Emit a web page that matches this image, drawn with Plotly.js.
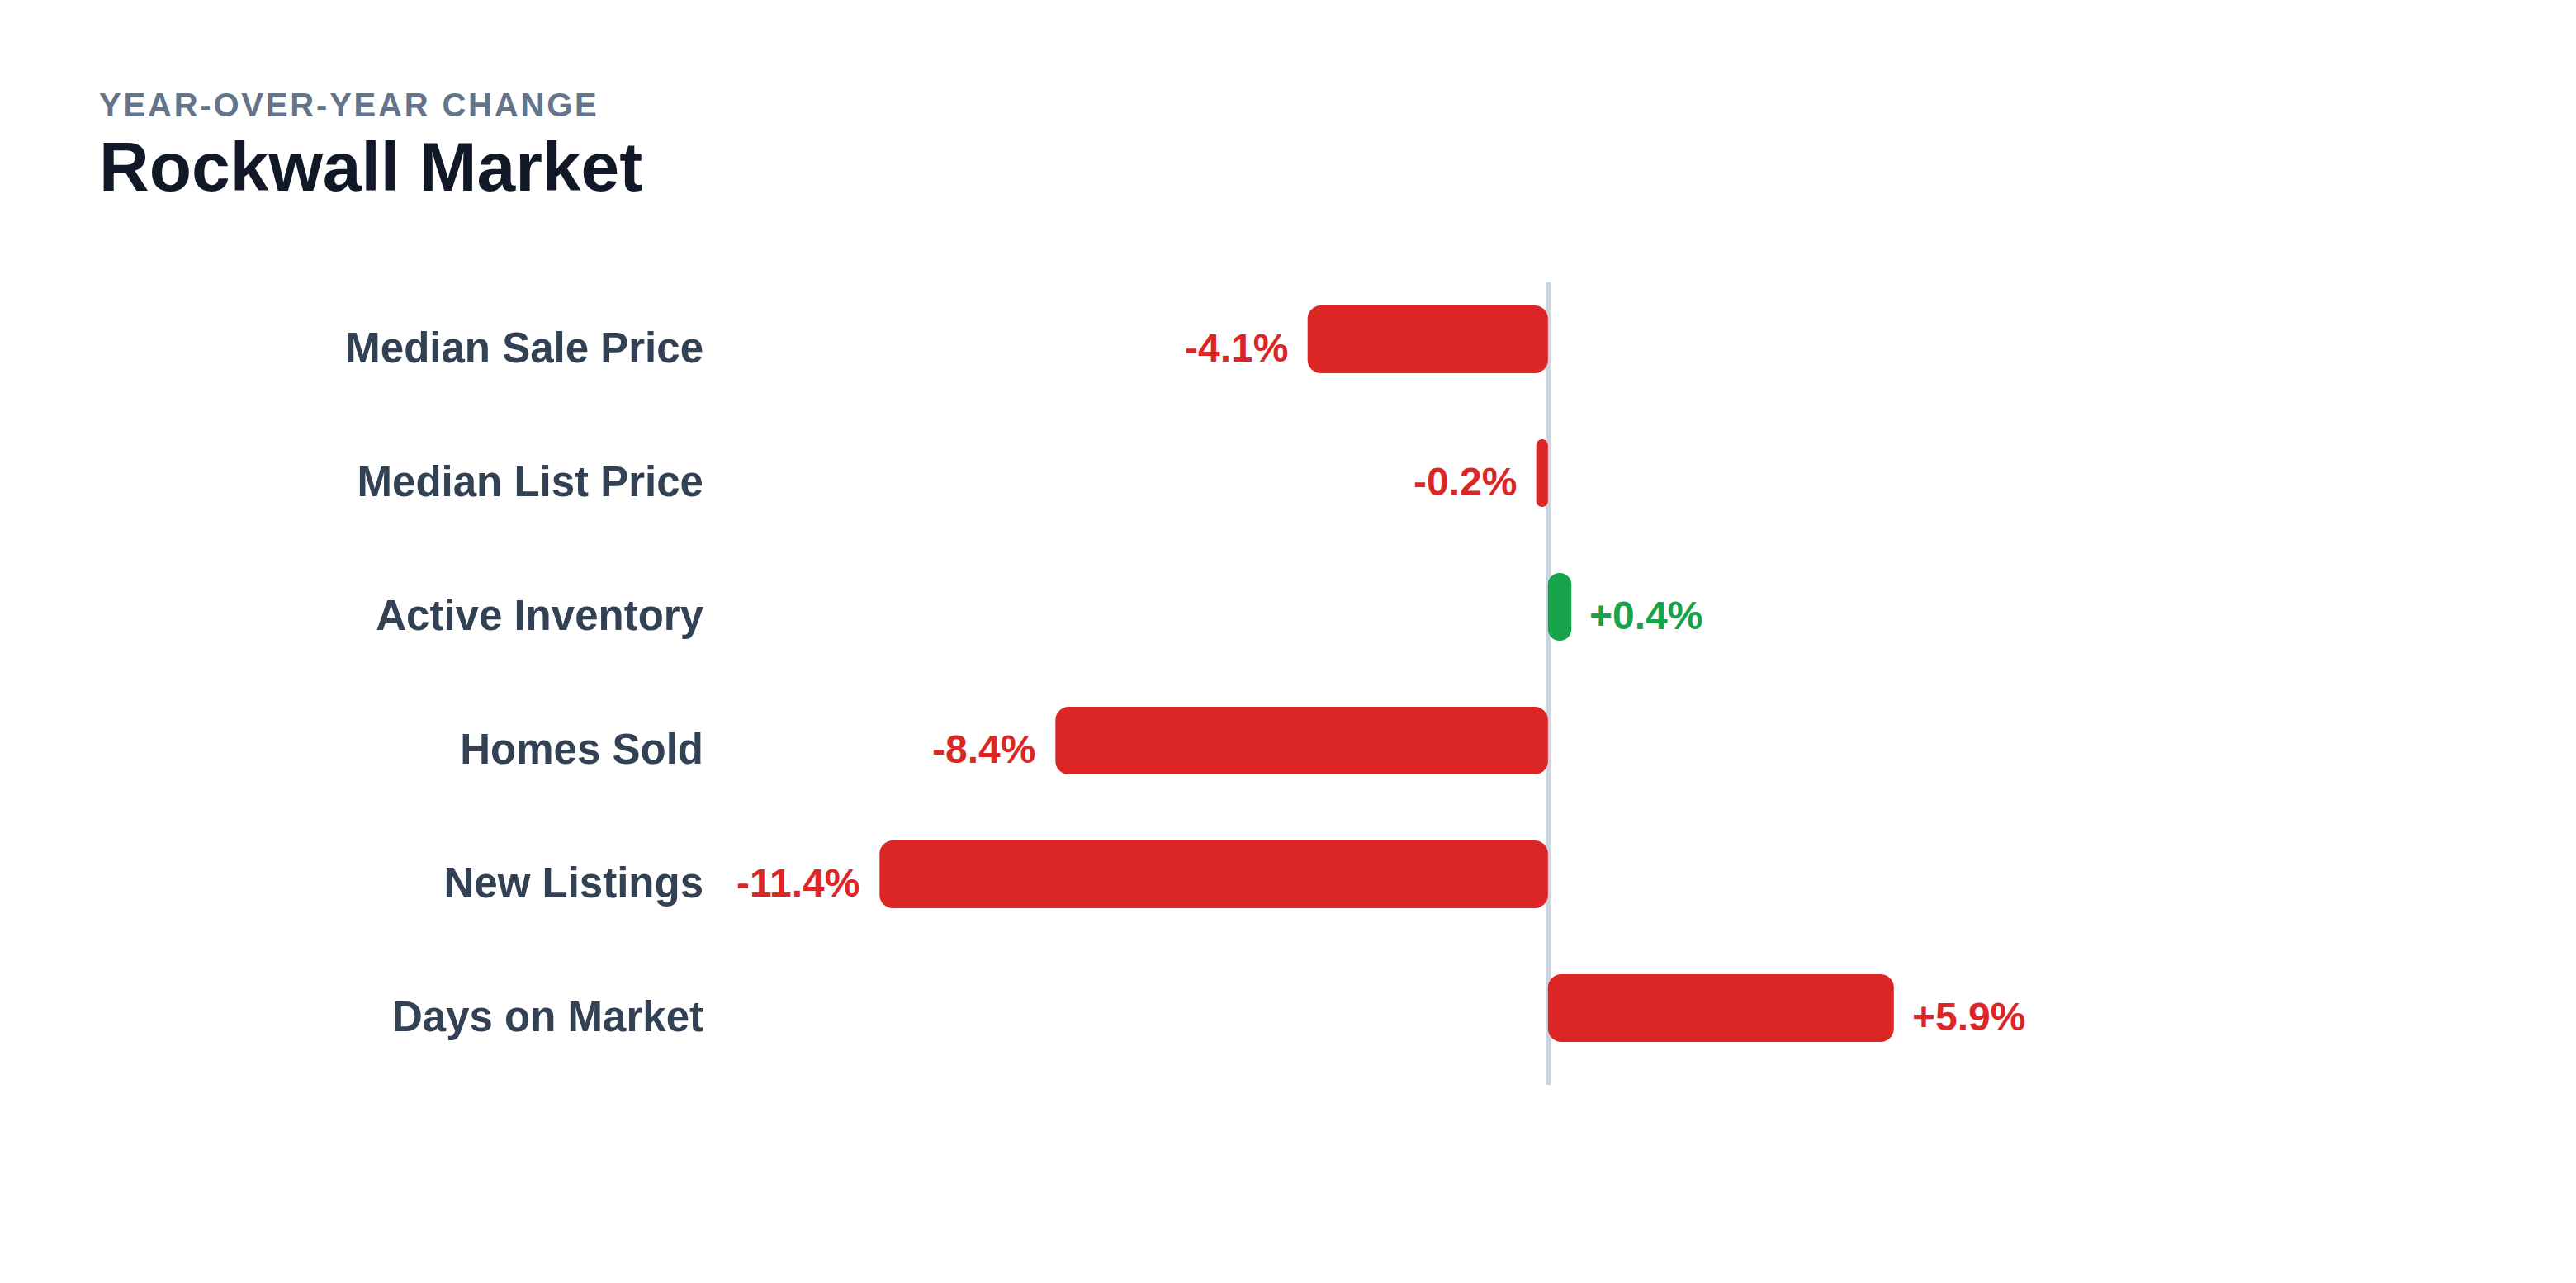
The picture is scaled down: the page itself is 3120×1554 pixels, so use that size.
<!DOCTYPE html>
<html>
<head>
<meta charset="utf-8">
<script src="https://cdn.plot.ly/plotly-3.0.1.min.js"></script>
<style>
  html, body { margin: 0; padding: 0; background: #ffffff; }
  #chart { width: 3120px; height: 1554px; }
</style>
</head>
<body>
<div id="chart"></div>
<script>
// year-over-year change, Rockwall market
var metrics = ['Median Sale Price', 'Median List Price', 'Active Inventory', 'Homes Sold', 'New Listings', 'Days on Market']
var changes = [-4.1, -0.2, 0.4, -8.4, -11.4, 5.9]
var barColors = ['#dc2626', '#dc2626', '#16a34a', '#dc2626', '#dc2626', '#dc2626']
var valueLabels = ['-4.1%', '-0.2%', '+0.4%', '-8.4%', '-11.4%', '+5.9%']

var font = '"Liberation Sans", Arial, sans-serif'

var W = 3120, H = 1554
var margin = { l: 875, r: 322, t: 342, b: 240 }
var xRange = [-14.08, 13]
var pxPerUnit = (W - margin.l - margin.r) / (xRange[1] - xRange[0])

// an explicit base makes plotly round all four corners; one trace per bar so
// the short bars can get a smaller radius (capsule ends)
var traces = changes.map((v, i) => ({
    type: 'bar',
    orientation: 'h',
    y: [metrics[i]],
    base: [0],
    x: [v],
    width: 0.50617,
    marker: {
        color: barColors[i],
        cornerradius: Math.min(16, Math.abs(v) * pxPerUnit / 2),
        line: { width: 0 }
    },
    hoverinfo: 'skip'
}))

var annotations = changes.map((v, i) => ({
    x: v,
    y: metrics[i],
    xref: 'x',
    yref: 'y',
    text: valueLabels[i],
    showarrow: false,
    xanchor: v < 0 ? 'right' : 'left',
    xshift: v < 0 ? -22 : 20,
    yshift: -10,
    font: { family: font, size: 48, color: barColors[i], weight: 700 }
}))

annotations.push({
    xref: 'paper', yref: 'paper',
    x: -0.3937, y: 1.2215,
    xanchor: 'left', yanchor: 'middle',
    text: '<span style="letter-spacing:2.8px">YEAR-OVER-YEAR CHANGE</span>',
    showarrow: false,
    font: { family: font, size: 40, color: '#64748b', weight: 700 }
})

annotations.push({
    xref: 'paper', yref: 'paper',
    x: -0.3937, y: 1.1445,
    xanchor: 'left', yanchor: 'middle',
    text: 'Rockwall Market',
    showarrow: false,
    font: { family: font, size: 84, color: '#111827', weight: 700 }
})

var layout = {
    width: W,
    height: H,
    margin: margin,
    paper_bgcolor: '#ffffff',
    plot_bgcolor: '#ffffff',
    showlegend: false,
    barmode: 'overlay',
    xaxis: {
        range: xRange,
        showgrid: false,
        showticklabels: false,
        ticks: '',
        zeroline: true,
        zerolinecolor: '#cbd5e1',
        zerolinewidth: 6,
        fixedrange: true
    },
    yaxis: {
        type: 'category',
        range: [5.574074, -0.425926],
        showgrid: false,
        zeroline: false,
        ticks: '',
        ticklabelstandoff: 22,
        ticklabelshift: -10,
        tickfont: { family: font, size: 51, color: '#334155', weight: 700 },
        fixedrange: true
    },
    annotations: annotations
}

Plotly.newPlot('chart', traces, layout, { displayModeBar: false, staticPlot: true })
</script>
</body>
</html>
